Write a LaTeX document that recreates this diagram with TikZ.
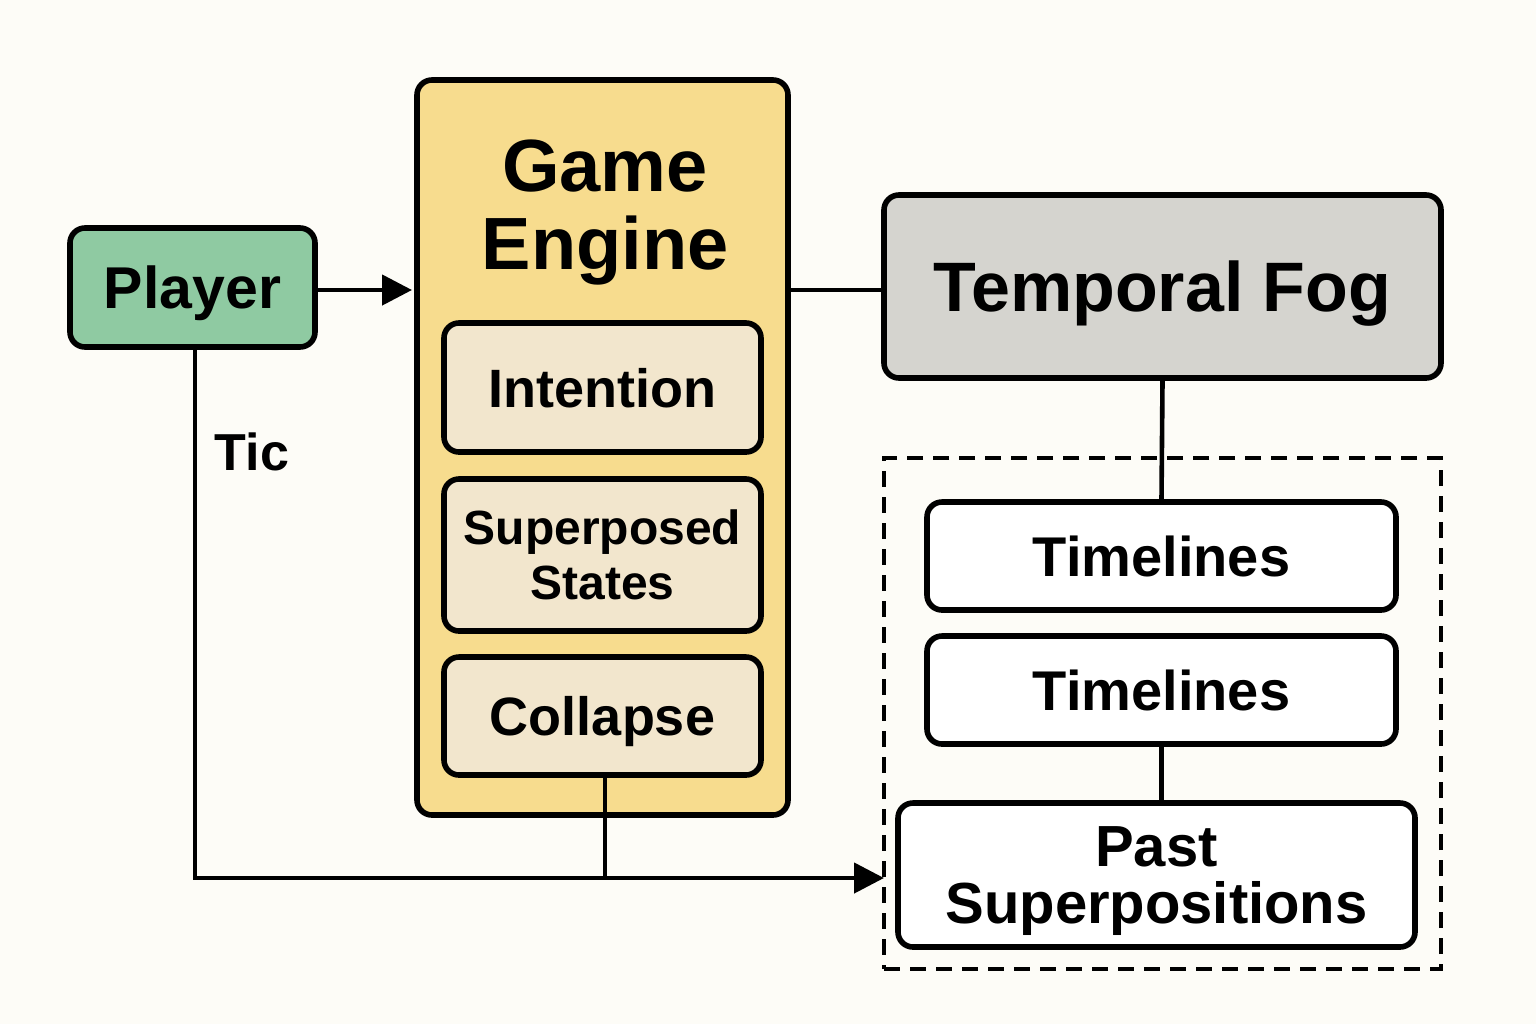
\documentclass[tikz,border=0pt]{standalone}
\usepackage{fontspec}
\setmainfont{Liberation Sans}
\usetikzlibrary{arrows.meta}
\definecolor{bg}{HTML}{FDFCF7}
\definecolor{pgreen}{HTML}{8FCAA2}
\definecolor{gyellow}{HTML}{F7DC8E}
\definecolor{ibeige}{HTML}{F2E6CD}
\definecolor{fgray}{HTML}{D5D4CF}
\tikzset{
  box/.style={draw=black, line width=2.8pt, rounded corners=7.5pt, align=center, font=\bfseries, inner sep=0pt, text depth=0pt},
  conn/.style={draw=black, line width=2.3pt},
  arr/.style={conn, -{Triangle[length=15pt,width=15pt]}},
}
\begin{document}
\begin{tikzpicture}[x=0.5pt, y=-0.5pt]
\fill[bg] (0,0) rectangle (1536,1024);
\useasboundingbox (0,0) rectangle (1536,1024);
% dashed group
\node[draw=black, line width=2.4pt, dash pattern=on 8pt off 5pt, minimum width=278.5pt, minimum height=255.5pt, inner sep=0pt] (grp) at (1162.5,713.5) {};
% nodes
\node[box, fill=pgreen, minimum width=122.5pt, minimum height=59.5pt, font=\bfseries\fontsize{29.5pt}{34pt}\selectfont] (player) at (192.5,287.5) {Player};
\node[box, fill=gyellow, minimum width=185.5pt, minimum height=367.5pt] (ge) at (602.5,447.5) {};
\node[font=\bfseries\fontsize{37pt}{39pt}\selectfont, align=center, inner sep=0pt] (getitle) at (605,212) {Game\\Engine};
\node[box, fill=ibeige, minimum width=158.5pt, minimum height=64.5pt, font=\bfseries\fontsize{27pt}{30pt}\selectfont] (int) at (602.5,387.5) {Intention};
\node[box, fill=ibeige, minimum width=158.5pt, minimum height=76pt, font=\bfseries\fontsize{24pt}{27.5pt}\selectfont] (sup) at (602.5,555) {Superposed\\States};
\node[box, fill=ibeige, minimum width=158.5pt, minimum height=59pt, font=\bfseries\fontsize{27pt}{30pt}\selectfont] (col) at (602.5,716) {Collapse};
\node[box, fill=fgray, minimum width=278.5pt, minimum height=91.5pt, font=\bfseries\fontsize{35pt}{38pt}\selectfont] (tf) at (1162.5,286.5) {Temporal Fog};
\node[box, fill=white, minimum width=234.5pt, minimum height=54pt, font=\bfseries\fontsize{28pt}{31pt}\selectfont] (tl1) at (1161.5,556) {Timelines};
\node[box, fill=white, minimum width=234.5pt, minimum height=54pt, font=\bfseries\fontsize{28pt}{31pt}\selectfont] (tl2) at (1161.5,690) {Timelines};
\node[box, fill=white, minimum width=258.5pt, minimum height=72pt, font=\bfseries\fontsize{29pt}{28.5pt}\selectfont] (past) at (1156.5,875) {Past\\Superpositions};
\node[font=\bfseries\fontsize{26pt}{29pt}\selectfont, inner sep=0pt] (tic) at (252,452) {Tic};
\coordinate (tip) at (884,878);
% connectors
\draw[arr] (player.east |- 0,290) -- (412,290);
\draw[conn] (ge.east |- 0,290) -- (tf.west |- 0,290);
\draw[conn] (tf.south) -- (tl1.north);
\draw[conn] (tl2.south) -- (tl2.south |- past.north);
\draw[arr] (player.south -| 195,0) |- (tip);
\draw[conn] (col.south -| 605,0) -- (605,878);
\end{tikzpicture}
\end{document}
